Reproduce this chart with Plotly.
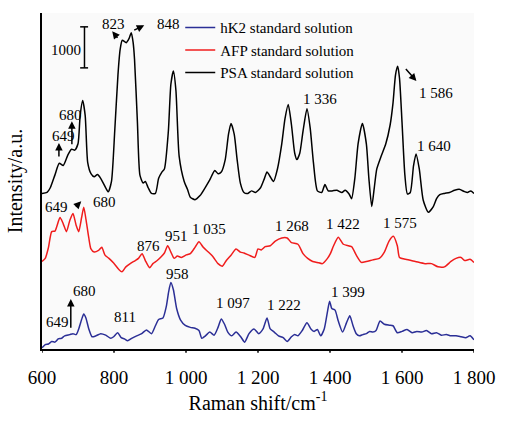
import plotly.graph_objects as go

# ---- data (Raman shift in cm-1, intensity in arbitrary units, spectra stacked) ----
shift_psa = [600, 614, 623, 636, 648, 659, 672, 682, 691, 700, 706, 713, 720, 727, 736, 745, 754, 763, 777, 784,
             793, 802, 811, 817, 823, 834, 842, 848, 853, 857, 865, 872, 881, 887, 895, 904, 915, 924, 933, 940,
             951, 958, 965, 972, 981, 995, 1004, 1012, 1025, 1039, 1053, 1066, 1080, 1089, 1098, 1109, 1118, 1125, 1134, 1142,
             1151, 1161, 1172, 1182, 1193, 1207, 1218, 1225, 1234, 1243, 1254, 1266, 1275, 1284, 1293, 1302, 1308, 1316, 1325, 1336,
             1345, 1354, 1365, 1377, 1386, 1395, 1406, 1419, 1433, 1442, 1453, 1460, 1469, 1478, 1490, 1501, 1508, 1516, 1523, 1530,
             1542, 1555, 1567, 1575, 1582, 1588, 1593, 1600, 1608, 1615, 1623, 1632, 1639, 1648, 1659, 1673, 1687, 1696, 1705, 1718,
             1732, 1746, 1759, 1773, 1782, 1791, 1800]
int_psa = [165.3, 166.3, 171.3, 185, 197.3, 195, 206.3, 212.3, 211.3, 218, 248, 264, 248, 198, 186.3, 183, 185.3, 181.3, 171.3, 167,
           178, 231.3, 291.3, 318, 328, 325.5, 330, 336, 326, 308, 241.3, 184.7, 176.3, 178, 171.3, 165.3, 165.3, 181.3, 188, 191.3,
           231.3, 281.3, 295.3, 274.7, 204.7, 178, 169.7, 161.3, 158.7, 163, 171.3, 179.7, 189.7, 186.3, 188, 201.3, 228, 239.7, 228, 201.3,
           176.3, 166.3, 165.3, 168, 166.3, 171.3, 181.3, 188, 183, 178, 191.3, 218, 244.7, 259.7, 238, 208, 201.3, 208, 231.3, 255.3,
           234.7, 198, 168, 166.3, 174.7, 168, 168, 168.7, 166.3, 168.7, 164.7, 159.7, 181.3, 218, 239.7, 218, 181.3, 151.3, 171.3, 191.3,
           204.7, 218, 238, 261.3, 291.3, 300.3, 288, 241.3, 184.7, 164.7, 166.3, 194.7, 207.3, 191.3, 158, 145.3, 151.3, 159.7, 164, 165.3,
           166.3, 168.7, 169.7, 167.3, 166.3, 168, 165.3]

shift_afp = [600, 609, 618, 627, 636, 650, 659, 668, 677, 686, 695, 702, 710, 716, 722, 730, 736, 745, 757, 766,
             775, 786, 799, 813, 822, 833, 845, 859, 868, 878, 887, 899, 908, 920, 931, 940, 949, 958, 967, 976,
             987, 1001, 1012, 1025, 1036, 1048, 1062, 1075, 1089, 1101, 1112, 1125, 1139, 1151, 1161, 1175, 1191, 1200, 1209, 1220,
             1234, 1248, 1266, 1281, 1293, 1311, 1325, 1338, 1352, 1365, 1379, 1393, 1401, 1410, 1423, 1437, 1460, 1473, 1487, 1501,
             1519, 1537, 1551, 1564, 1576, 1587, 1593, 1610, 1637, 1664, 1682, 1700, 1718, 1736, 1750, 1764, 1774, 1789, 1800]
int_afp = [93, 96.3, 108, 124.7, 125.3, 139.7, 133, 124.7, 136.3, 144, 131.3, 124.7, 139.7, 150.7, 138, 118, 106.3, 103, 104.7, 108,
           99.7, 96.3, 91.3, 84.7, 82, 87.3, 90.7, 94, 96.3, 101.3, 94, 86.3, 90.7, 94, 98, 102, 109.7, 103, 96.3, 98.7,
           97.3, 100, 101.3, 108, 114, 108, 103, 98, 90.7, 88, 94, 99.7, 106.3, 103, 102, 99.7, 97.3, 106.3, 105.3, 108.7,
           109.7, 114.7, 118, 118, 113, 111.3, 101.3, 96.3, 93, 92, 90.7, 96.3, 101.3, 109.7, 118.7, 111.3, 108.7, 99.7, 92, 93,
           94.7, 96.3, 103, 114.7, 119.7, 109.7, 97.3, 95.3, 93, 90.7, 90.7, 87.3, 87.3, 93, 96.3, 97.3, 94, 95.3, 92]

shift_hk2 = [600, 609, 618, 627, 636, 645, 654, 663, 677, 686, 695, 702, 710, 716, 722, 730, 739, 750, 763, 777,
             791, 799, 810, 820, 829, 838, 849, 863, 877, 890, 904, 915, 924, 936, 945, 952, 958, 965, 974, 985,
             998, 1012, 1025, 1036, 1044, 1054, 1066, 1078, 1089, 1098, 1107, 1116, 1127, 1139, 1152, 1163, 1175, 1189, 1202, 1214,
             1225, 1234, 1245, 1257, 1270, 1281, 1293, 1302, 1311, 1323, 1336, 1347, 1356, 1365, 1374, 1384, 1393, 1399, 1405, 1414,
             1423, 1435, 1446, 1455, 1464, 1473, 1482, 1491, 1501, 1510, 1519, 1528, 1539, 1551, 1564, 1575, 1587, 1600, 1614, 1628,
             1641, 1655, 1668, 1682, 1696, 1709, 1723, 1736, 1750, 1764, 1777, 1789, 1800]
int_hk2 = [1.3, 4.7, 5.3, 8, 7.3, 10.7, 11.3, 14, 15.3, 16.3, 15.3, 21.3, 31.3, 37.3, 33, 21.3, 13, 14, 16.3, 14.7,
           11.3, 13, 17.3, 12, 10.7, 8.7, 11.3, 14, 16.3, 20.3, 16.3, 24.7, 31.3, 33, 44.7, 61.3, 70.7, 63, 43, 30.7,
           25, 23, 22, 19.7, 11.3, 14, 18, 14.7, 23, 32, 26.3, 18, 14, 18, 13, 7.3, 16.3, 21.3, 16.3, 21.3,
           33, 21.3, 18, 14, 12, 8, 13, 15.3, 14, 19.7, 28, 21.3, 18.7, 20.7, 14, 21.3, 39.7, 50.7, 43, 41.3,
           29.7, 18, 28, 35.3, 24.7, 16.3, 14, 15.3, 16.3, 18.7, 18, 19.7, 29.7, 26.3, 25.3, 24.7, 17.3, 18.7, 20.7, 17.3,
           18.7, 18, 19.7, 16.3, 17.3, 14.7, 15.3, 14, 14, 13, 12, 14, 9.7]

tick_vals = [600, 800, 1000, 1200, 1400, 1600, 1800]
tick_text = ["600", "800", "1 000", "1 200", "1 400", "1 600", "1 800"]

# peak labels: (text, x, y)
labels = [
    ("649", 659, 226), ("680", 679, 249), ("823", 799, 345), ("848", 950, 345),
    ("1 336", 1371, 266), ("1 586", 1694, 272), ("1 640", 1688, 216),
    ("649", 641, 151), ("680", 774, 156), ("876", 896, 109), ("951", 974, 120),
    ("1 035", 1063, 128), ("1 268", 1295, 131), ("1 422", 1435, 133), ("1 575", 1595, 134),
    ("649", 642, 29), ("680", 717, 62), ("811", 830, 34), ("958", 975, 80),
    ("1 097", 1131, 49), ("1 222", 1272, 47), ("1 399", 1451, 61),
]
# arrows: (tail x, tail y, head x, head y)
arrows = [
    (647, 203, 647, 219), (683, 216, 683, 242), (813, 329, 795, 337.5),
    (852, 338, 884, 344), (1607, 299, 1640, 284.7),
    (690, 149.7, 709, 157),
    (680, 21, 680, 53),
]

FONT = "Liberation Serif"
fig = go.Figure()
fig.add_trace(go.Scatter(x=shift_hk2, y=int_hk2, mode="lines", name="hK2 standard solution",
                         line=dict(color="#2b2f96", width=1.5, shape="spline", smoothing=0.6)))
fig.add_trace(go.Scatter(x=shift_afp, y=int_afp, mode="lines", name="AFP standard solution",
                         line=dict(color="#f01c1c", width=1.5, shape="spline", smoothing=0.6)))
fig.add_trace(go.Scatter(x=shift_psa, y=int_psa, mode="lines", name="PSA standard solution",
                         line=dict(color="#000000", width=1.5, shape="spline", smoothing=0.6)))

anns = []
for t, x, y in labels:
    anns.append(dict(x=x, y=y, text=t, showarrow=False, font=dict(family=FONT, size=15, color="black")))
for tx, ty, hx, hy in arrows:
    anns.append(dict(x=hx, y=hy, ax=tx, ay=ty, axref="x", ayref="y", text="", showarrow=True,
                     arrowhead=2, arrowsize=1, arrowwidth=1.5, arrowcolor="black", standoff=0))
# scale bar label
anns.append(dict(x=713, y=318, text="1000", showarrow=False, xanchor="right",
                 font=dict(family=FONT, size=15, color="black")))

shapes = [
    dict(type="line", x0=718, x1=718, y0=298.7, y1=342.3, line=dict(color="black", width=1.5)),
    dict(type="line", x0=706, x1=728, y0=298.7, y1=298.7, line=dict(color="black", width=1.5)),
    dict(type="line", x0=706, x1=728, y0=342.3, y1=342.3, line=dict(color="black", width=1.5)),
]
# short outside tick marks (labels are pushed further down by a longer invisible tick)
for v in tick_vals:
    shapes.append(dict(type="line", xref="x", yref="paper", x0=v, x1=v, y0=0, y1=-4 / 357,
                       line=dict(color="black", width=1.5)))

fig.update_layout(
    width=506, height=422,
    margin=dict(l=42, r=23, t=11, b=54),
    paper_bgcolor="white", plot_bgcolor="#fafafa",
    font=dict(family=FONT, color="black"),
    showlegend=True,
    legend=dict(x=0.32, y=1.005, xanchor="left", yanchor="top", bgcolor="rgba(0,0,0,0)",
                font=dict(family=FONT, size=15), tracegroupgap=0),
    annotations=anns, shapes=shapes,
    xaxis=dict(range=[600, 1800], tickvals=tick_vals, ticktext=tick_text, ticks="outside", ticklen=10,
               tickwidth=1, tickcolor="rgba(0,0,0,0)", showline=True, linecolor="black", linewidth=1.5,
               showgrid=False, zeroline=False, tickfont=dict(family=FONT, size=19),
               title=dict(text="Raman shift/cm<sup>-1</sup>", font=dict(family=FONT, size=20), standoff=9)),
    yaxis=dict(range=[0, 357], showticklabels=False, ticks="", showline=True, linecolor="black", linewidth=1.5,
               showgrid=False, zeroline=False,
               title=dict(text="Intensity/a.u.", font=dict(family=FONT, size=20), standoff=12)),
)

fig.write_html("out.html")
